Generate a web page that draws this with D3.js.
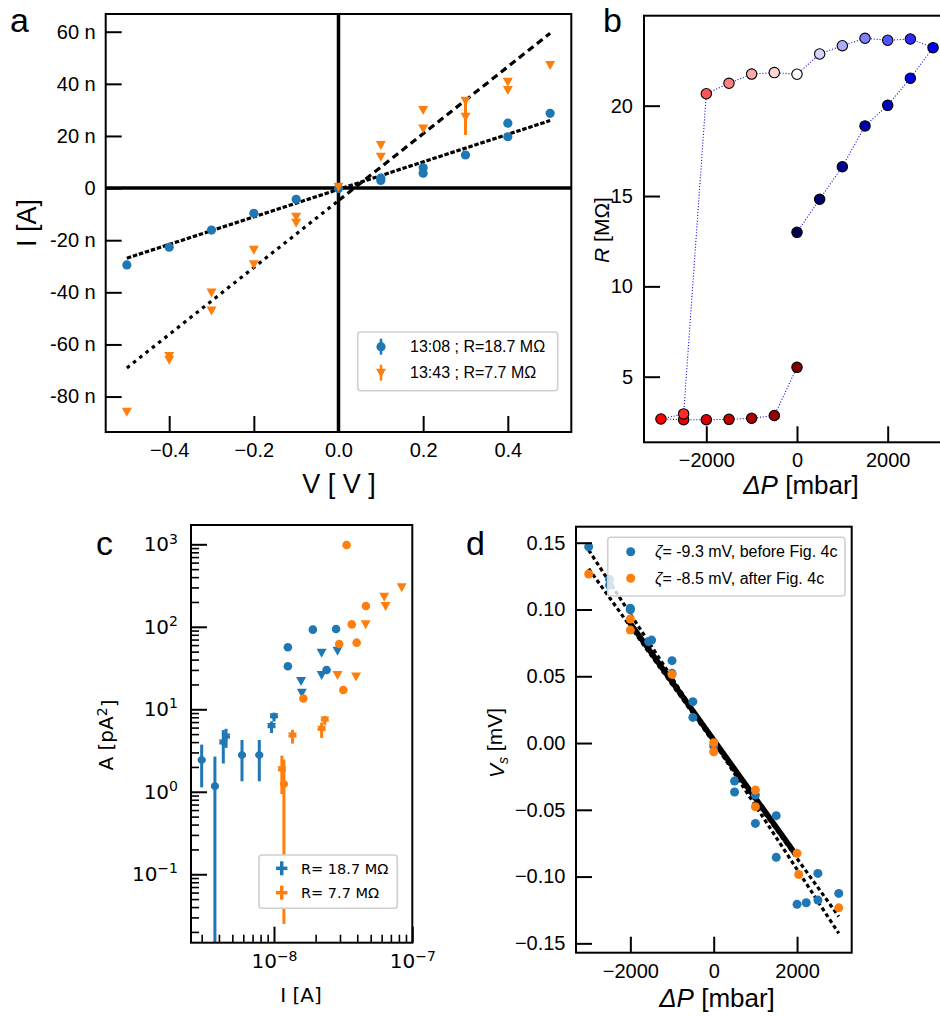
<!DOCTYPE html>
<html>
<head>
<meta charset="utf-8">
<script src="https://cdn.jsdelivr.net/npm/d3@7"></script>
<style>
  body { margin: 0; background: #fff; }
</style>
</head>
<body>
<script>
// ---------- panel a : I-V curves ----------
const aXTicks = [-0.4, -0.2, 0, 0.2, 0.4];
const aYTicks = [-80, -60, -40, -20, 0, 20, 40, 60];
const aBlueV = [-0.5, -0.4, -0.3, -0.2, -0.1, 0, 0.1, 0.1, 0.2, 0.2, 0.3, 0.4, 0.4, 0.5];
const aBlueI = [-29.5, -22.7, -16.1, -9.7, -4.3, -0.2, 3.8, 2.9, 7.8, 5.7, 12.7, 24.9, 19.7, 28.7];
const aOrangeV = [-0.5, -0.4, -0.4, -0.3, -0.3, -0.2, -0.2, -0.1, -0.1, 0, 0.1, 0.1, 0.2, 0.2, 0.3, 0.3, 0.4, 0.4, 0.5];
const aOrangeI = [-85.8, -64.4, -65.9, -40.1, -47.0, -23.7, -29.2, -11.0, -13.3, 0.5, 16.5, 12.0, 30.0, 22.9, 33.5, 27.4, 40.8, 37.6, 47.2];
const aOrangeErr = [0, 0, 0, 0, 0, 0, 0, 0, 0, 0, 0, 0, 0, 0, 0, 7.0, 0, 0, 0];
const aFitV = [-0.5, 0.5];
const aFitBlue = [-26.9, 25.9];
const aFitOrangeNeg = [-69.0, -4.8];   // V from -0.5 to 0
const aFitOrangePos = [-4.8, 59.4];    // V from 0 to 0.5
const aLegend = ["13:08 ; R=18.7 MΩ", "13:43 ; R=7.7 MΩ"];

// ---------- panel b : resistance vs pressure (measurement order) ----------
const bP = [0, -500, -1000, -1500, -2000, -2500, -3000, -2500, -2000, -1500, -1000, -500, 0,
            500, 1000, 1500, 2000, 2500, 3000, 2500, 2000, 1500, 1000, 500, 0];
const bR = [5.52, 2.85, 2.70, 2.64, 2.62, 2.62, 2.66, 2.94, 20.66, 21.24, 21.75, 21.83, 21.74,
            22.86, 23.32, 23.73, 23.62, 23.69, 23.21, 21.52, 20.02, 18.88, 16.62, 14.82, 12.99];
const bXTicks = [-2000, 0, 2000];
const bYTicks = [5, 10, 15, 20];

// ---------- panel c : noise amplitude vs current ----------
const cBlueErrI = [3.0e-9, 3.74e-9, 4.3e-9, 4.5e-9, 5.87e-9, 7.83e-9, 9.6e-9, 1.0e-8];
const cBlueErrA = [2.43, 1.17, 3.9, 4.6, 2.79, 2.79, 6.15, 8.1];
const cBlueErr = [1.3, 1.5, 1.7, 1.2, 1.45, 1.45, 1.0, 1.0];
const cBlueErrShape = ["o", "o", "v", "v", "o", "o", "v", "v"];
const cBlueCircI = [1.26e-8, 1.26e-8, 1.91e-8, 2.81e-8, 2.4e-8];
const cBlueCircA = [56.4, 33.2, 92.3, 94, 29.9];
const cBlueTriI = [1.57e-8, 1.59e-8, 2.21e-8, 2.21e-8, 2.88e-8];
const cBlueTriA = [22.0, 15.9, 48.5, 26.1, 51.3];
const cOrangeErrI = [1.14e-8, 1.18e-8, 1.36e-8, 2.21e-8, 2.33e-8];
const cOrangeErrA = [1.84, 1.24, 4.74, 5.7, 7.4];
const cOrangeErr = [0.9, 1.215, 0.9, 1.2, 0.9];
const cOrangeErrShape = ["v", "o", "v", "v", "v"];
const cOrangeCircI = [3.35e-8, 4.62e-8, 3.65e-8, 2.96e-8, 3.96e-8, 3.17e-8, 1.63e-8];
const cOrangeCircA = [980, 178.6, 107, 61.9, 64.2, 17.1, 13.5];
const cOrangeTriI = [8.38e-8, 6.27e-8, 6.41e-8, 4.6e-8, 2.88e-8, 3.92e-8];
const cOrangeTriA = [301, 232, 179, 107, 26.1, 24.9];
const cXTicks = [1e-8, 1e-7];
const cYTicks = [0.1, 1, 10, 100, 1000];
const cLegend = ["R= 18.7 MΩ", "R= 7.7 MΩ"];

// ---------- panel d : streaming potential ----------
const dBlueP = [-3000, -2500, -2500, -2000, -2000, -1560, -1490, -1000, -1000, -500, -500, 0, 500, 500,
                1000, 1000, 1500, 1500, 2000, 2220, 2500, 2500, 3000];
const dBlueV = [0.147, 0.1226, 0.1183, 0.1009, 0.0997, 0.0759, 0.0771, 0.0617, 0.0522, 0.0310, 0.0192, -0.0022,
                -0.0285, -0.0367, -0.039, -0.0602, -0.0544, -0.0856, -0.1208, -0.1196, -0.0976, -0.1176, -0.1126];
const dOrangeP = [-3000, -2000, -2000, -1000, 0, 0, 1000, 1000, 2000, 2040, 3000];
const dOrangeV = [0.1266, 0.0929, 0.0846, 0.0514, 0.0002, -0.0065, -0.0352, -0.0477, -0.0826, -0.0984, -0.1234];
const dFitP = [-3000, 3000];
const dFit1 = [0.1445, -0.1425];
const dFit2 = [0.1306, -0.1299];
const dMeanP = [-2050, 1950];
const dMeanV = [0.0916, -0.0826];
const dXTicks = [-2000, 0, 2000];
const dYTicks = [-0.15, -0.10, -0.05, 0, 0.05, 0.10, 0.15];
const dLegend = ["= -9.3 mV, before Fig. 4c", "= -8.5 mV, after Fig. 4c"];

const BLUE = "#1f77b4", ORANGE = "#ff7f0e";
const ARIAL = "'Liberation Sans', Arial, sans-serif";
const DEJAVU = "'DejaVu Sans', sans-serif";

const svg = d3.select("body").append("svg")
  .attr("width", 940).attr("height", 1017)
  .style("display", "block");

function frame(g, x0, x1, y0, y1) {
  g.append("rect")
    .attr("x", x0).attr("y", y0)
    .attr("width", x1 - x0).attr("height", y1 - y0)
    .attr("fill", "none").attr("stroke", "#000").attr("stroke-width", 2);
}

function styleAxis(sel, font, size) {
  sel.select(".domain").remove();
  sel.selectAll(".tick line").attr("stroke", "#000").attr("stroke-width", 2);
  sel.selectAll(".tick text")
    .attr("font-family", font).attr("font-size", size).attr("fill", "#000");
}

function triDown(x, y, s) {
  return `M${x - s},${y - s * 0.8}L${x + s},${y - s * 0.8}L${x},${y + s}Z`;
}

function panelLabel(txt, x, y) {
  svg.append("text").attr("x", x).attr("y", y)
    .attr("font-family", ARIAL).attr("font-size", 34).text(txt);
}

// ================= panel a =================
(function () {
  const L = 105.7, R = 571.3, T = 14, B = 432;
  const g = svg.append("g");
  const x = d3.scaleLinear().domain([-0.55, 0.55]).range([L, R]);
  const y = d3.scaleLinear().domain([-93.6, 66.8]).range([B, T]);

  // thick zero lines
  g.append("line").attr("x1", x(0)).attr("x2", x(0)).attr("y1", T).attr("y2", B)
    .attr("stroke", "#000").attr("stroke-width", 3.5);
  g.append("line").attr("x1", L).attr("x2", R).attr("y1", y(0)).attr("y2", y(0))
    .attr("stroke", "#000").attr("stroke-width", 3.5);

  // fits
  const fit = (vs, is, dash) => g.append("line")
    .attr("x1", x(vs[0])).attr("x2", x(vs[1]))
    .attr("y1", y(is[0])).attr("y2", y(is[1]))
    .attr("stroke", "#000").attr("stroke-width", 3.2)
    .attr("stroke-dasharray", dash);
  fit(aFitV, aFitBlue, "4.5,1.8");
  fit([aFitV[0], 0], aFitOrangeNeg, "3.5,4.5");
  fit([0, aFitV[1]], aFitOrangePos, "7,4.5");

  // blue points
  g.append("g").selectAll("circle").data(aBlueV).join("circle")
    .attr("cx", d => x(d)).attr("cy", (d, i) => y(aBlueI[i])).attr("r", 4.6)
    .attr("fill", BLUE);

  // orange points with error bars
  g.append("g").selectAll("line").data(aOrangeV.map((v, i) => i).filter(i => aOrangeErr[i] > 0)).join("line")
    .attr("x1", i => x(aOrangeV[i])).attr("x2", i => x(aOrangeV[i]))
    .attr("y1", i => y(aOrangeI[i] - aOrangeErr[i])).attr("y2", i => y(aOrangeI[i] + aOrangeErr[i]))
    .attr("stroke", ORANGE).attr("stroke-width", 3);
  g.append("g").selectAll("path").data(aOrangeV).join("path")
    .attr("d", (d, i) => triDown(x(d), y(aOrangeI[i]), 5))
    .attr("fill", ORANGE);

  frame(g, L, R, T, B);

  g.append("g").attr("transform", `translate(${L},0)`)
    .call(d3.axisLeft(y).tickValues(aYTicks).tickSize(-16).tickPadding(10)
      .tickFormat(v => v === 0 ? "0" : `${v} n`))
    .call(s => styleAxis(s, ARIAL, 20));
  g.append("g").attr("transform", `translate(0,${B})`)
    .call(d3.axisBottom(x).tickValues(aXTicks).tickSize(-16).tickPadding(11)
      .tickFormat(d3.format(".1f")))
    .call(s => styleAxis(s, ARIAL, 20));

  // legend
  const lg = g.append("g");
  lg.append("rect").attr("x", 357.7).attr("y", 332).attr("width", 200).attr("height", 58.7)
    .attr("rx", 3).attr("fill", "#fff").attr("stroke", "#d0d0d0").attr("stroke-width", 1.6);
  [346.7, 372.7].forEach((yy, i) => {
    lg.append("line").attr("x1", 381).attr("x2", 381).attr("y1", yy - 8).attr("y2", yy + 8)
      .attr("stroke", i ? ORANGE : BLUE).attr("stroke-width", 2.5);
    if (i) lg.append("path").attr("d", triDown(381, yy, 5)).attr("fill", ORANGE);
    else lg.append("circle").attr("cx", 381).attr("cy", yy).attr("r", 4.6).attr("fill", BLUE);
    lg.append("text").attr("x", 410).attr("y", yy).attr("dy", "0.36em")
      .attr("font-family", ARIAL).attr("font-size", 16).text(aLegend[i]);
  });

  g.append("text").attr("x", 339).attr("y", 493).attr("text-anchor", "middle")
    .attr("font-family", ARIAL).attr("font-size", 27).text("V [ V ]");
  g.append("text").attr("transform", "translate(36,223) rotate(-90)").attr("text-anchor", "middle")
    .attr("font-family", ARIAL).attr("font-size", 27).text("I [A]");
  panelLabel("a", 10, 32);
})();

// ================= panel b =================
(function () {
  const L = 644, R = 950, T = 15.7, B = 442.3;
  const g = svg.append("g");
  const x = d3.scaleLinear().domain([-3374, 3374]).range([L, R]);
  const y = d3.scaleLinear().domain([1.37, 24.98]).range([B, T]);
  const cmap = d3.scaleLinear().domain([0, 0.25, 0.5, 0.75, 1])
    .range(["#800000", "#ff0000", "#ffffff", "#0000ff", "#00004d"]);

  g.append("path")
    .attr("d", d3.line().x((d, i) => x(d)).y((d, i) => y(bR[i]))(bP))
    .attr("fill", "none").attr("stroke", "#1a1ae6").attr("stroke-width", 1.1)
    .attr("stroke-dasharray", "1.1,1.8");
  g.append("g").selectAll("circle").data(bP).join("circle")
    .attr("cx", d => x(d)).attr("cy", (d, i) => y(bR[i])).attr("r", 5.2)
    .attr("fill", (d, i) => cmap(i / (bP.length - 1)))
    .attr("stroke", "#000").attr("stroke-width", 1.1);

  frame(g, L, R, T, B);
  g.append("g").attr("transform", `translate(${L},0)`)
    .call(d3.axisLeft(y).tickValues(bYTicks).tickSize(-16).tickPadding(11))
    .call(s => styleAxis(s, ARIAL, 20));
  g.append("g").attr("transform", `translate(0,${B})`)
    .call(d3.axisBottom(x).tickValues(bXTicks).tickSize(-16).tickPadding(10.5).tickFormat(d3.format("d")))
    .call(s => styleAxis(s, ARIAL, 20));

  const xl = g.append("text").attr("x", 801).attr("y", 494).attr("text-anchor", "middle")
    .attr("font-family", ARIAL).attr("font-size", 26);
  xl.append("tspan").attr("font-style", "italic").text("ΔP");
  xl.append("tspan").text(" [mbar]");
  const yl = g.append("text").attr("transform", "translate(609,230) rotate(-90)")
    .attr("text-anchor", "middle").attr("font-family", ARIAL).attr("font-size", 21);
  yl.append("tspan").attr("font-style", "italic").text("R");
  yl.append("tspan").text(" [MΩ]");
  panelLabel("b", 603, 32);
})();

// ================= panel c =================
(function () {
  const L = 191, R = 412.3, T = 525, B = 942.7;
  const g = svg.append("g");
  const x = d3.scaleLog().domain([Math.pow(10, -8.6), 1e-7]).range([L, R]);
  const y = d3.scaleLog().domain([0.0148, 1714]).range([B, T]);
  const clampY = v => y(Math.max(v, y.domain()[0]));

  function errPoints(I, A, E, shapes, col) {
    const gg = g.append("g");
    I.forEach((xi, i) => {
      const cx = x(xi), cy = y(A[i]);
      gg.append("line").attr("x1", cx).attr("x2", cx)
        .attr("y1", clampY(A[i] - E[i])).attr("y2", y(A[i] + E[i]))
        .attr("stroke", col).attr("stroke-width", 3);
      gg.append("line").attr("x1", cx - 4).attr("x2", cx + 4).attr("y1", cy).attr("y2", cy)
        .attr("stroke", col).attr("stroke-width", 3);
      if (shapes[i] === "v") gg.append("path").attr("d", triDown(cx, cy, 4.5)).attr("fill", col);
      else gg.append("circle").attr("cx", cx).attr("cy", cy).attr("r", 3.8).attr("fill", col);
    });
  }
  function circles(I, A, col) {
    g.append("g").selectAll("circle").data(I).join("circle")
      .attr("cx", d => x(d)).attr("cy", (d, i) => y(A[i])).attr("r", 4.3).attr("fill", col);
  }
  function tris(I, A, col) {
    g.append("g").selectAll("path").data(I).join("path")
      .attr("d", (d, i) => triDown(x(d), y(A[i]), 5)).attr("fill", col);
  }
  errPoints(cBlueErrI, cBlueErrA, cBlueErr, cBlueErrShape, BLUE);
  circles(cBlueCircI, cBlueCircA, BLUE);
  tris(cBlueTriI, cBlueTriA, BLUE);
  errPoints(cOrangeErrI, cOrangeErrA, cOrangeErr, cOrangeErrShape, ORANGE);
  circles(cOrangeCircI, cOrangeCircA, ORANGE);
  tris(cOrangeTriI, cOrangeTriA, ORANGE);

  frame(g, L, R, T, B);

  const pow10 = function (d) {
    const t = d3.select(this);
    t.text(null);
    t.append("tspan").text("10");
    t.append("tspan").attr("dy", "-0.55em").attr("font-size", 14)
      .text(String(Math.round(Math.log10(d))).replace("-", "−"));
  };
  const yMinor = [], xMinor = [];
  for (let e = -2; e <= 3; e++) for (let k = 2; k <= 9; k++) {
    const v = k * Math.pow(10, e);
    if (v > y.domain()[0] && v < y.domain()[1]) yMinor.push(v);
  }
  for (let e = -9; e <= -8; e++) for (let k = 2; k <= 9; k++) {
    const v = k * Math.pow(10, e);
    if (v > x.domain()[0] && v < x.domain()[1]) xMinor.push(v);
  }
  g.append("g").attr("transform", `translate(${L},0)`)
    .call(d3.axisLeft(y).tickValues(yMinor).tickSize(-8).tickFormat(""))
    .call(s => { styleAxis(s, DEJAVU, 20); s.selectAll(".tick line").attr("stroke-width", 1.6); });
  g.append("g").attr("transform", `translate(0,${B})`)
    .call(d3.axisBottom(x).tickValues(xMinor).tickSize(-8).tickFormat(""))
    .call(s => { styleAxis(s, DEJAVU, 20); s.selectAll(".tick line").attr("stroke-width", 1.6); });
  g.append("g").attr("transform", `translate(${L},0)`)
    .call(d3.axisLeft(y).tickValues(cYTicks).tickSize(-16).tickPadding(13))
    .call(s => styleAxis(s, DEJAVU, 20))
    .call(s => s.selectAll(".tick text").each(pow10));
  g.append("g").attr("transform", `translate(0,${B})`)
    .call(d3.axisBottom(x).tickValues(cXTicks).tickSize(-16).tickPadding(11.4))
    .call(s => styleAxis(s, DEJAVU, 20))
    .call(s => s.selectAll(".tick text").each(pow10));

  // legend
  const lg = g.append("g");
  lg.append("rect").attr("x", 259).attr("y", 855).attr("width", 138.3).attr("height", 53.3)
    .attr("rx", 3).attr("fill", "#fff").attr("stroke", "#d0d0d0").attr("stroke-width", 1.6);
  [868.3, 892.7].forEach((yy, i) => {
    const col = i ? ORANGE : BLUE;
    lg.append("line").attr("x1", 281.7).attr("x2", 281.7).attr("y1", yy - 7).attr("y2", yy + 7)
      .attr("stroke", col).attr("stroke-width", 3.5);
    lg.append("line").attr("x1", 276).attr("x2", 287.4).attr("y1", yy).attr("y2", yy)
      .attr("stroke", col).attr("stroke-width", 3.5);
    lg.append("text").attr("x", 301).attr("y", yy).attr("dy", "0.36em")
      .attr("font-family", DEJAVU).attr("font-size", 14.5).text(cLegend[i]);
  });

  g.append("text").attr("x", 301).attr("y", 1002).attr("text-anchor", "middle")
    .attr("font-family", DEJAVU).attr("font-size", 20).text("I [A]");
  const yl = g.append("text").attr("transform", "translate(113,735) rotate(-90)")
    .attr("text-anchor", "middle").attr("font-family", DEJAVU).attr("font-size", 20);
  yl.append("tspan").text("A [pA");
  yl.append("tspan").attr("dy", "-0.45em").attr("font-size", 14).text("2");
  yl.append("tspan").attr("dy", "0.45em").text("]");
  panelLabel("c", 96, 555);
})();

// ================= panel d =================
(function () {
  const L = 576, R = 851.7, T = 526.7, B = 952.7;
  const g = svg.append("g");
  const x = d3.scaleLinear().domain([-3304, 3311]).range([L, R]);
  const y = d3.scaleLinear().domain([-0.157, 0.162]).range([B, T]);

  const seg = (ps, vs, w, dash) => g.append("line")
    .attr("x1", x(ps[0])).attr("x2", x(ps[1])).attr("y1", y(vs[0])).attr("y2", y(vs[1]))
    .attr("stroke", "#000").attr("stroke-width", w).attr("stroke-dasharray", dash);
  seg(dMeanP, dMeanV, 5.5, null);
  seg(dFitP, dFit1, 3.2, "4,3");
  seg(dFitP, dFit2, 3.2, "4,3");

  g.append("g").selectAll("circle").data(dBlueP).join("circle")
    .attr("cx", d => x(d)).attr("cy", (d, i) => y(dBlueV[i])).attr("r", 4.5).attr("fill", BLUE);
  g.append("g").selectAll("circle").data(dOrangeP).join("circle")
    .attr("cx", d => x(d)).attr("cy", (d, i) => y(dOrangeV[i])).attr("r", 4.5).attr("fill", ORANGE);

  frame(g, L, R, T, B);
  g.append("g").attr("transform", `translate(${L},0)`)
    .call(d3.axisLeft(y).tickValues(dYTicks).tickSize(-16).tickPadding(10.5).tickFormat(d3.format(".2f")))
    .call(s => styleAxis(s, ARIAL, 20));
  g.append("g").attr("transform", `translate(0,${B})`)
    .call(d3.axisBottom(x).tickValues(dXTicks).tickSize(-16).tickPadding(11).tickFormat(d3.format("d")))
    .call(s => styleAxis(s, ARIAL, 20));

  // legend (semi-transparent, like matplotlib framealpha)
  const lg = g.append("g");
  lg.append("rect").attr("x", 607.7).attr("y", 537.3).attr("width", 237.3).attr("height", 58.7)
    .attr("rx", 3).attr("fill", "#fff").attr("fill-opacity", 0.8)
    .attr("stroke", "#d0d0d0").attr("stroke-width", 1.6);
  [551.7, 578.3].forEach((yy, i) => {
    lg.append("circle").attr("cx", 630.7).attr("cy", yy).attr("r", 4.5).attr("fill", i ? ORANGE : BLUE);
    const t = lg.append("text").attr("x", 655).attr("y", yy).attr("dy", "0.36em")
      .attr("font-family", ARIAL).attr("font-size", 16);
    t.append("tspan").attr("font-style", "italic").text("ζ");
    t.append("tspan").text(dLegend[i]);
  });

  const xl = g.append("text").attr("x", 717).attr("y", 1007).attr("text-anchor", "middle")
    .attr("font-family", ARIAL).attr("font-size", 26);
  xl.append("tspan").attr("font-style", "italic").text("ΔP");
  xl.append("tspan").text(" [mbar]");
  const yl = g.append("text").attr("transform", "translate(504,743) rotate(-90)")
    .attr("text-anchor", "middle").attr("font-family", ARIAL).attr("font-size", 21);
  yl.append("tspan").attr("font-style", "italic").text("V");
  yl.append("tspan").attr("dy", "0.3em").attr("font-size", 14).attr("font-style", "italic").text("s");
  yl.append("tspan").attr("dy", "-0.3em").text(" [mV]");
  panelLabel("d", 466, 555);
})();
</script>
</body>
</html>
